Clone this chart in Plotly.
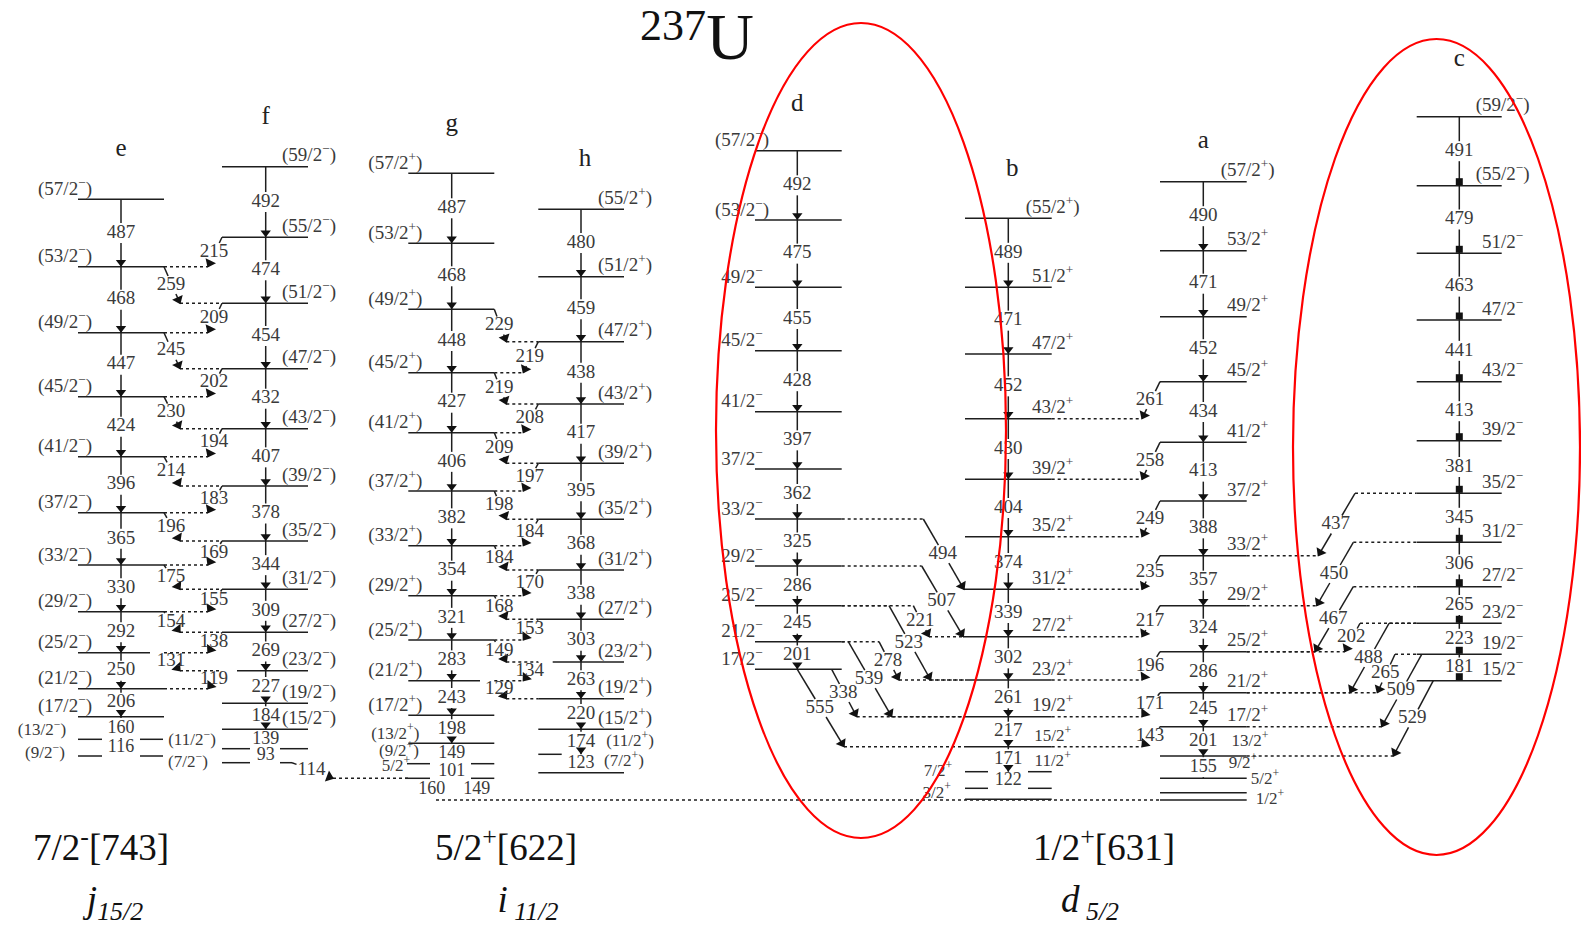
import math
import plotly.graph_objects as go

W, H = 1581, 936

# ------------------------------------------------------------------ data
# level positions are read off the picture (vertical pixel scale of the scheme)
E_SPINS = ["(57/2-)", "(53/2-)", "(49/2-)", "(45/2-)", "(41/2-)", "(37/2-)", "(33/2-)",
           "(29/2-)", "(25/2-)", "(21/2-)", "(17/2-)", "(13/2-)", "(9/2-)"]
E_Y = [199.3, 266.7, 332.7, 396.7, 456.7, 512.7, 565.0, 611.7, 652.7, 688.7, 716.7, 739.3, 756.0]
E_EG = [487, 468, 447, 424, 396, 365, 330, 292, 250, 206, 160, 116]

F_SPINS = ["(59/2-)", "(55/2-)", "(51/2-)", "(47/2-)", "(43/2-)", "(39/2-)", "(35/2-)",
           "(31/2-)", "(27/2-)", "(23/2-)", "(19/2-)", "(15/2-)", "(11/2-)", "(7/2-)"]
F_Y = [166.7, 237.3, 303.3, 368.7, 428.7, 486.0, 541.0, 589.3, 632.3, 670.7, 703.3, 729.3, 748.7, 762.7]
F_EG = [492, 474, 454, 432, 407, 378, 344, 309, 269, 227, 184, 139, 93]

G_SPINS = ["(57/2+)", "(53/2+)", "(49/2+)", "(45/2+)", "(41/2+)", "(37/2+)", "(33/2+)",
           "(29/2+)", "(25/2+)", "(21/2+)", "(17/2+)", "(13/2+)", "(9/2+)", "5/2+"]
G_Y = [173.3, 243.3, 309.3, 372.7, 432.7, 491.0, 545.7, 595.7, 640.0, 680.7, 715.3, 743.3, 763.7, 778.3]
G_EG = [487, 468, 448, 427, 406, 382, 354, 321, 283, 243, 198, 149, 101]

H_SPINS = ["(55/2+)", "(51/2+)", "(47/2+)", "(43/2+)", "(39/2+)", "(35/2+)", "(31/2+)",
           "(27/2+)", "(23/2+)", "(19/2+)", "(15/2+)", "(11/2+)", "(7/2+)"]
H_Y = [209.3, 276.7, 341.7, 404.0, 463.3, 519.3, 570.0, 619.3, 662.0, 698.7, 729.3, 754.3, 772.7]
H_EG = [480, 459, 438, 417, 395, 368, 338, 303, 263, 220, 174, 123]

D_SPINS = ["(57/2-)", "(53/2-)", "49/2-", "45/2-", "41/2-", "37/2-", "33/2-", "29/2-",
           "25/2-", "21/2-", "17/2-"]
D_Y = [150.7, 220.0, 287.3, 350.7, 411.7, 469.0, 519.0, 566.0, 605.7, 641.7, 669.3]
D_EG = [492, 475, 455, 428, 397, 362, 325, 286, 245, 201]

B_SPINS = ["(55/2+)", "51/2+", "47/2+", "43/2+", "39/2+", "35/2+", "31/2+", "27/2+",
           "23/2+", "19/2+", "15/2+", "11/2+", "7/2+", "3/2+"]
B_Y = [218.3, 287.3, 354.0, 418.7, 479.3, 536.7, 589.3, 636.7, 680.0, 716.7, 746.7, 771.7, 788.3, 799.3]
B_EG = [489, 471, 452, 430, 404, 374, 339, 302, 261, 217, 171, 122, None]

A_SPINS = ["(57/2+)", "53/2+", "49/2+", "45/2+", "41/2+", "37/2+", "33/2+", "29/2+",
           "25/2+", "21/2+", "17/2+", "13/2+", "9/2+", "5/2+", "1/2+"]
A_Y = [181.7, 250.7, 316.7, 381.7, 442.3, 501.0, 555.7, 605.7, 651.7, 692.7, 726.7, 756.0, 778.3, 792.7, 800.0]
A_EG = [490, 471, 452, 434, 413, 388, 357, 324, 286, 245, 201, 155, None, None]

C_SPINS = ["(59/2-)", "(55/2-)", "51/2-", "47/2-", "43/2-", "39/2-", "35/2-", "31/2-",
           "27/2-", "23/2-", "19/2-", "15/2-"]
C_Y = [116.7, 185.7, 253.3, 320.0, 381.7, 440.7, 493.3, 542.3, 586.7, 623.3, 654.3, 680.7]
C_EG = [491, 479, 463, 441, 413, 381, 345, 306, 265, 223, 181]

# inter-band transitions: (energy, upper band, upper level idx, lower band, lower level idx)
EF_TRANS = [(259, "e", 1, "f", 2), (245, "e", 2, "f", 3), (230, "e", 3, "f", 4), (214, "e", 4, "f", 5),
            (196, "e", 5, "f", 6), (175, "e", 6, "f", 7), (154, "e", 7, "f", 8), (131, "e", 8, "f", 9),
            (215, "f", 1, "e", 1), (209, "f", 2, "e", 2), (202, "f", 3, "e", 3), (194, "f", 4, "e", 4),
            (183, "f", 5, "e", 5), (169, "f", 6, "e", 6), (155, "f", 7, "e", 7), (138, "f", 8, "e", 8),
            (119, "f", 9, "e", 9)]
GH_TRANS = [(229, "g", 2, "h", 2), (219, "g", 3, "h", 3), (209, "g", 4, "h", 4), (198, "g", 5, "h", 5),
            (184, "g", 6, "h", 6), (168, "g", 7, "h", 7), (149, "g", 8, "h", 8), (129, "g", 9, "h", 9),
            (219, "h", 2, "g", 3), (208, "h", 3, "g", 4), (197, "h", 4, "g", 5), (184, "h", 5, "g", 6),
            (170, "h", 6, "g", 7), (153, "h", 7, "g", 8), (134, "h", 8, "g", 9)]
AB_TRANS = [(261, "a", 3, "b", 3), (258, "a", 4, "b", 4), (249, "a", 5, "b", 5), (235, "a", 6, "b", 6),
            (217, "a", 7, "b", 7), (196, "a", 8, "b", 8), (171, "a", 9, "b", 9), (143, "a", 10, "b", 10)]
DB_TRANS = [(494, "d", 6, "b", 6), (507, "d", 7, "b", 7), (221, "d", 8, "b", 7), (523, "d", 8, "b", 8),
            (278, "d", 9, "b", 8), (539, "d", 9, "b", 9), (338, "d", 10, "b", 9), (555, "d", 10, "b", 10)]
CA_TRANS = [(437, "c", 6, "a", 6), (450, "c", 7, "a", 7), (467, "c", 8, "a", 8), (202, "c", 9, "a", 8),
            (488, "c", 9, "a", 9), (265, "c", 10, "a", 9), (509, "c", 10, "a", 10), (529, "c", 11, "a", 11)]
FG_TRANS = [(114, "f", 13, "g", 13)]

EXTRA_EG = ["160", "149"]          # labels below the 5/2+ level of band g
BAND_HEAD = ["7/2<sup>-</sup>[743]", "5/2<sup>+</sup>[622]", "1/2<sup>+</sup>[631]"]
SHELL = ["<i>j<sub>15/2</sub></i>", "<i>i<sub> 11/2</sub></i>", "<i>d<sub> 5/2</sub></i>"]

# ------------------------------------------------------------------ layout / style
BANDS = {
    "e": dict(sp=E_SPINS, y=E_Y, eg=E_EG, x0=78, x1=164, xv=121, side="L", tag=150),
    "f": dict(sp=F_SPINS, y=F_Y, eg=F_EG, x0=222, x1=308, xv=265.7, side="R", tag=118),
    "g": dict(sp=G_SPINS, y=G_Y, eg=G_EG, x0=408.3, x1=494.3, xv=451.7, side="L", tag=125),
    "h": dict(sp=H_SPINS, y=H_Y, eg=H_EG, x0=538.3, x1=624, xv=581, side="R", tag=160),
    "d": dict(sp=D_SPINS, y=D_Y, eg=D_EG, x0=755, x1=841.7, xv=797.3, side="L", tag=105),
    "b": dict(sp=B_SPINS, y=B_Y, eg=B_EG, x0=965, x1=1051.7, xv=1008.3, side="R", tag=170),
    "a": dict(sp=A_SPINS, y=A_Y, eg=A_EG, x0=1160, x1=1246.7, xv=1203.3, side="R", tag=142),
    "c": dict(sp=C_SPINS, y=C_Y, eg=C_EG, x0=1416.7, x1=1501.7, xv=1459.3, side="R", tag=60),
}
SEGMENTS = {("e", 8): [(78, 150)], ("e", 11): [(78, 102), (140, 163)], ("e", 12): [(78, 102), (140, 163)],
            ("f", 9): [(237, 308)], ("f", 12): [(222, 250), (280, 308)], ("f", 13): [(222, 250), (280, 292)],
            ("g", 9): [(408.3, 480)], ("g", 12): [(407, 430), (471, 494.3)], ("g", 13): [(405, 430), (471, 494.3)],
            ("h", 8): [(552.7, 624)], ("h", 11): [(538.3, 561.7)],
            ("b", 11): [(965, 988), (1028, 1051.7)], ("b", 12): [(965, 988), (1028, 1051.7)]}
SPIN_POS = {("e", 11): (42, 731), ("e", 12): (45, 754), ("f", 12): (192, 741), ("f", 13): (188, 762.7),
            ("g", 12): (399, 752), ("g", 13): (396, 767),
            ("h", 11): (630, 742), ("h", 12): (624, 762),
            ("b", 12): (938, 771.7), ("b", 13): (936.7, 793.3),
            ("a", 11): (1250, 742), ("a", 12): (1243, 764), ("a", 13): (1265, 780), ("a", 14): (1270, 800)}
FAMILY_OFFSET = {("e", "f"): 16, ("f", "e"): 14, ("g", "h"): 12, ("h", "g"): 15, ("a", "b"): 18}
DIAG_X = {  # diagonal start / end x for the long cross-band arrows
    (494, "d"): (923.3, 964), (507, "d"): (921.7, 963.3), (221, "d"): (913.3, 929),
    (523, "d"): (889, 930.7), (278, "d"): (879, 899), (539, "d"): (848.3, 891.7),
    (338, "d"): (831.7, 856.7), (555, "d"): (797.3, 844),
    (437, "c"): (1355, 1318.3), (450, "c"): (1353.3, 1316.7), (467, "c"): (1353.3, 1315),
    (202, "c"): (1360, 1344.7), (488, "c"): (1389, 1350), (265, "c"): (1395, 1377.3),
    (509, "c"): (1421.7, 1381.7), (529, "c"): (1433.3, 1393.3),
    (114, "f"): (292, 333),
}

FONT = "Liberation Serif"
TXT = "#3a3a3a"
LINE = "#1e1e1e"


def fmt(s):
    return s.replace("-", "<sup>\u2212</sup>").replace("+", "<sup>+</sup>")


solid_x, solid_y, dot_x, dot_y = [], [], [], []
tri_x, tri_y, sq_x, sq_y = [], [], [], []
ar_x, ar_y, ar_a = [], [], []
eg_t, sp_t = [], []


def seg(lx, ly, x0, y0, x1, y1):
    lx += [x0, x1, None]
    ly += [y0, y1, None]


def gapped(x0, y0, x1, y1, hw, hh):
    dx, dy = x1 - x0, y1 - y0
    g = min(hw / abs(dx) if dx else 1e9, hh / abs(dy) if dy else 1e9)
    if 0.5 - g > 0:
        seg(solid_x, solid_y, x0, y0, x0 + dx * (0.5 - g), y0 + dy * (0.5 - g))
        seg(solid_x, solid_y, x0 + dx * (0.5 + g), y0 + dy * (0.5 + g), x1, y1)


# levels, spin labels, in-band transitions
for name, b in BANDS.items():
    for i, (sp, y) in enumerate(zip(b["sp"], b["y"])):
        for (a0, a1) in SEGMENTS.get((name, i), [(b["x0"], b["x1"])]):
            seg(solid_x, solid_y, a0, y, a1, y)
        if (name, i) in SPIN_POS:
            px, py = SPIN_POS[(name, i)]
        elif b["side"] == "L":
            px, py = b["x0"] - 13, y - 9
        else:
            px, py = b["x1"] + 1, y - 10
        sp_t.append((px, py, fmt(sp), 17 if y > 735 else 19))
    for i, eg in enumerate(b["eg"]):
        if eg is None:
            continue
        yu, yl = b["y"][i], b["y"][i + 1]
        gapped(b["xv"], yu, b["xv"], yl, 16, 10)
        eg_t.append((b["xv"], (yu + yl) / 2, str(eg), 18 if yl - yu < 24 else 19))
        if yl - yu >= 24:
            if name == "c":
                sq_x.append(b["xv"]); sq_y.append(yl - 4)
            else:
                tri_x.append(b["xv"]); tri_y.append(yl - 4.5)

# cross-band transitions
for eg, ub, ui, lb, li in EF_TRANS + GH_TRANS + AB_TRANS + DB_TRANS + CA_TRANS + FG_TRANS:
    U, L = BANDS[ub], BANDS[lb]
    yu, yl = U["y"][ui], L["y"][li]
    right = L["xv"] > U["xv"]
    if (eg, ub) in DIAG_X:
        xs, xe = DIAG_X[(eg, ub)]
    else:
        off = FAMILY_OFFSET[(ub, lb)]
        xs = U["x1"] if right else U["x0"]
        xe = xs + off if right else xs - off
    if right:
        if xs > U["x1"]:
            seg(dot_x, dot_y, U["x1"], yu, xs, yu)
        if xe < L["x0"]:
            seg(dot_x, dot_y, xe, yl, L["x0"], yl)
    else:
        if xs < U["x0"]:
            seg(dot_x, dot_y, xs, yu, U["x0"], yu)
        if xe > L["x1"]:
            seg(dot_x, dot_y, L["x1"], yl, xe, yl)
    gapped(xs, yu, xe, yl, 16, 9)
    eg_t.append(((xs + xe) / 2 - 1, (yu + yl) / 2, str(eg), 19))
    dx, dy = xe - xs, yl - yu
    ln = math.hypot(dx, dy)
    ar_x.append(xe - 4 * dx / ln); ar_y.append(yl - 4 * dy / ln)
    ar_a.append(math.degrees(math.atan2(dx, -dy)))

# ground state line joining the bands
seg(dot_x, dot_y, 436, BANDS["a"]["y"][-1], BANDS["a"]["x0"], BANDS["a"]["y"][-1])
eg_t.append((431.7, 789.3, EXTRA_EG[0], 18))
eg_t.append((476.7, 789.3, EXTRA_EG[1], 18))

fig = go.Figure()
fig.add_trace(go.Scatter(x=dot_x, y=dot_y, mode="lines", line=dict(color=LINE, width=1.6, dash="dot"),
                         hoverinfo="skip"))
fig.add_trace(go.Scatter(x=solid_x, y=solid_y, mode="lines", line=dict(color=LINE, width=1.5),
                         hoverinfo="skip"))
fig.add_trace(go.Scatter(x=tri_x, y=tri_y, mode="markers",
                         marker=dict(symbol="triangle-down", size=9, color="#111"), hoverinfo="skip"))
fig.add_trace(go.Scatter(x=sq_x, y=sq_y, mode="markers",
                         marker=dict(symbol="square", size=7, color="#111"), hoverinfo="skip"))
fig.add_trace(go.Scatter(x=ar_x, y=ar_y, mode="markers",
                         marker=dict(symbol="triangle-up", size=10, color="#111", angle=ar_a),
                         hoverinfo="skip"))


def text_trace(items, size, color=TXT, pos="middle center"):
    sizes = [t[3] if len(t) > 3 else size for t in items]
    fig.add_trace(go.Scatter(x=[t[0] for t in items], y=[t[1] for t in items],
                             text=[t[2] for t in items], mode="text", textposition=pos,
                             textfont=dict(family=FONT, size=sizes, color=color), hoverinfo="skip"))


text_trace(eg_t, 19)
text_trace(sp_t, 19)
text_trace([(b["xv"] + (4 if n in "hb" else 0), b["tag"], n) for n, b in BANDS.items()], 25, "#222")
text_trace([(706, 29, "237")], 44, "#111", "middle left")
text_trace([(730, 42, "U")], 66, "#111")
text_trace([(101, 851, BAND_HEAD[0]), (506, 851, BAND_HEAD[1]), (1104, 851, BAND_HEAD[2])], 37, "#111")
text_trace([(115, 903, SHELL[0]), (528, 903, SHELL[1]), (1090, 903, SHELL[2])], 37, "#111")

fig.add_shape(type="circle", xref="x", yref="y", x0=716, x1=1006, y0=23, y1=838,
              line=dict(color="red", width=2.2), layer="above")
fig.add_shape(type="circle", xref="x", yref="y", x0=1293, x1=1580, y0=39, y1=855,
              line=dict(color="red", width=2.2), layer="above")

fig.update_layout(width=W, height=H, margin=dict(l=0, r=0, t=0, b=0), showlegend=False,
                  paper_bgcolor="white", plot_bgcolor="white",
                  xaxis=dict(range=[0, W], visible=False, fixedrange=True),
                  yaxis=dict(range=[H, 0], visible=False, fixedrange=True))
fig.write_html("out.html", config={"displayModeBar": False})
